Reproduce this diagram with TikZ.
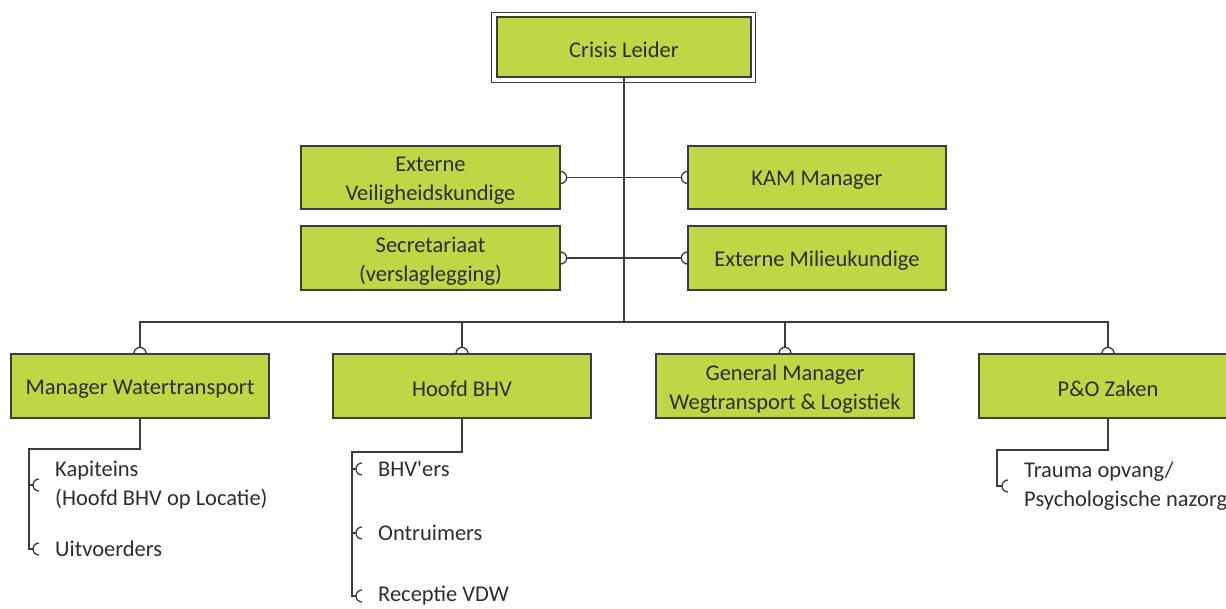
\documentclass[tikz,border=0pt]{standalone}
\usepackage{fontspec}
\setmainfont{Carlito}[Ligatures=TeXOff]
\definecolor{boxgreen}{RGB}{192,214,68}
\definecolor{linegray}{RGB}{60,60,60}
\definecolor{txtgray}{RGB}{45,45,52}
\begin{document}
\begin{tikzpicture}[x=1pt,y=1pt,
  every node/.style={font=\fontsize{22.5}{29}\selectfont, text=txtgray},
  orgbox/.style={draw=linegray, line width=1.2pt, fill=boxgreen, minimum width=258pt, minimum height=64pt, inner sep=0pt},
  boxtext/.style={align=center, inner sep=0pt, yshift=-3pt},
  item/.style={anchor=west, inner xsep=16pt, inner ysep=0pt, align=left},
  conn/.style={draw=linegray, line width=1.3pt}]
\useasboundingbox (0,0) rectangle (1226,608);
\clip (0,0) rectangle (1226,608);
% top
\node[orgbox, minimum width=254pt, minimum height=60pt, label={[boxtext]center:Crisis Leider}] (crisis) at (624,561) {};
\draw[conn, line width=1.1pt] ([shift={(-5pt,4pt)}]crisis.north west) rectangle ([shift={(4pt,-5pt)}]crisis.south east);
% staff
\node[orgbox, minimum width=259pt, minimum height=63pt, label={[boxtext]center:Externe\\Veiligheidskundige}] (ev) at (430.5,430.5) {};
\node[orgbox, minimum width=258pt, minimum height=63pt, label={[boxtext]center:KAM Manager}] (kam) at (817,430.5) {};
\node[orgbox, minimum width=259pt, label={[boxtext]center:Secretariaat\\(verslaglegging)}] (sec) at (430.5,350) {};
\node[orgbox, label={[boxtext]center:Externe Milieukundige}] (em) at (817,350) {};
% level 2
\node[orgbox, label={[boxtext]center:Manager Watertransport}] (mw) at (140,222) {};
\node[orgbox, label={[boxtext]center:Hoofd BHV}] (hb) at (462,222) {};
\node[orgbox, label={[boxtext]center:General Manager\\Wegtransport \& Logistiek}] (gm) at (785,222) {};
\node[orgbox, label={[boxtext]center:P\&O Zaken}] (po) at (1108,222) {};
% items
\node[item] (kap) at (39,123) {Kapiteins\\(Hoofd BHV op Locatie)};
\node[item] (uit) at (39,59) {Uitvoerders};
\node[item] (bhv) at (362,139) {BHV'ers};
\node[item] (ont) at (362,75) {Ontruimers};
\node[item] (rec) at (362,12) {Receptie VDW};
\node[item] (tra) at (1008,122) {Trauma opvang/\\Psychologische nazorg};
% trunk
\coordinate (busc) at (624,286);
\draw[conn] (crisis.south) -- (busc);
% staff lines
\draw[conn] ([xshift=6pt]ev.east) -- ([xshift=-6pt]kam.west);
\draw[conn] ([xshift=6pt]sec.east) -- ([xshift=-6pt]em.west);
\foreach \n in {ev,sec}{\draw[conn] ([yshift=6pt]\n.east) arc[start angle=90,end angle=-90,radius=6pt];}
\foreach \n in {kam,em}{\draw[conn] ([yshift=6pt]\n.west) arc[start angle=90,end angle=270,radius=6pt];}
% bus
\draw[conn] ([yshift=6pt]mw.north) |- (busc) -| ([yshift=6pt]po.north);
\draw[conn] ([yshift=6pt]hb.north) -- (hb.north |- busc);
\draw[conn] ([yshift=6pt]gm.north) -- (gm.north |- busc);
\foreach \n in {mw,hb,gm,po}{\draw[conn] ([xshift=6pt]\n.north) arc[start angle=0,end angle=180,radius=6pt];}
% sub items
\coordinate (mwc) at (29,159);
\draw[conn] (mw.south) |- (mwc) |- ([xshift=-6pt]uit.west);
\draw[conn] (mwc |- kap.west) -- ([xshift=-6pt]kap.west);
\coordinate (hbc) at (352,156);
\draw[conn] (hb.south) |- (hbc) |- ([xshift=-6pt]rec.west);
\draw[conn] (hbc |- bhv.west) -- ([xshift=-6pt]bhv.west);
\draw[conn] (hbc |- ont.west) -- ([xshift=-6pt]ont.west);
\coordinate (poc) at (997,158);
\draw[conn] (po.south) |- (poc) |- ([xshift=-6pt]tra.west);
\foreach \n in {kap,uit,bhv,ont,rec,tra}{\draw[conn] ([yshift=6pt]\n.west) arc[start angle=90,end angle=270,radius=6pt];}
\end{tikzpicture}
\end{document}
